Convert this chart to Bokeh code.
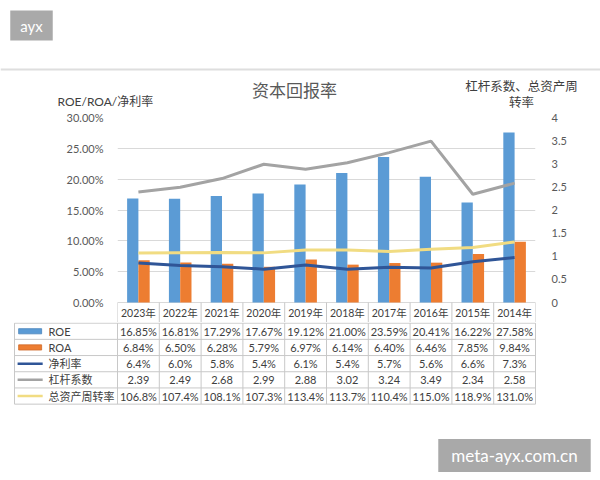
from bokeh.plotting import figure
from bokeh.models import (Range1d, LinearAxis, FixedTicker, PrintfTickFormatter,
                          CustomJSTickFormatter, Label, Span, ColumnDataSource)
from bokeh.layouts import column, row
from bokeh.transform import dodge
from bokeh.core.properties import value
from bokeh.embed import file_html
from bokeh.resources import INLINE

# ---------------- data ----------------
years = ["2023年", "2022年", "2021年", "2020年", "2019年",
         "2018年", "2017年", "2016年", "2015年", "2014年"]
roe = [16.85, 16.81, 17.29, 17.67, 19.12, 21.00, 23.59, 20.41, 16.22, 27.58]
roa = [6.84, 6.50, 6.28, 5.79, 6.97, 6.14, 6.40, 6.46, 7.85, 9.84]
net_margin = [6.4, 6.0, 5.8, 5.4, 6.1, 5.4, 5.7, 5.6, 6.6, 7.3]
leverage = [2.39, 2.49, 2.68, 2.99, 2.88, 3.02, 3.24, 3.49, 2.34, 2.58]
turnover = [106.8, 107.4, 108.1, 107.3, 113.4, 113.7, 110.4, 115.0, 118.9, 131.0]
left_ticks = [0, 5, 10, 15, 20, 25, 30]
right_ticks = [0, 0.5, 1, 1.5, 2, 2.5, 3, 3.5, 4]
series_names = ["ROE", "ROA", "净利率", "杠杆系数", "总资产周转率"]

C_ROE = "#5b9bd5"
C_ROA = "#ed7d31"
C_NM = "#2f5597"
C_LEV = "#a3a3a3"
C_TURN = "#f1dc82"
RULE = "#c8c8c8"

SANS = "Lato, 'Noto Sans CJK SC', sans-serif"
CJK = "'Noto Sans CJK SC', sans-serif"
TXT = "#404040"
n = len(years)
slot = [i + 0.5 for i in range(n)]   # category centres on a numeric axis

# chart frame geometry (pixels): plot area 185 px + 20 px header row of the table
PLOT_PX, HDR_PX = 185, 20
L_MAX, R_MAX = 30, 4
l_lo = -L_MAX * HDR_PX / PLOT_PX
r_lo = -R_MAX * HDR_PX / PLOT_PX

# ---------------- top band: page decoration + titles ----------------
BAND_H = 110
band = figure(width=600, height=BAND_H, x_range=Range1d(0, 600), y_range=Range1d(0, BAND_H),
              min_border=0, x_axis_location=None, y_axis_location=None,
              output_backend="svg", toolbar_location=None)
band.outline_line_color = None
band.xgrid.visible = False
band.ygrid.visible = False
def by(y_page):
    return BAND_H - y_page
band.add_layout(Span(location=by(69), dimension="width", line_color="#dedede", line_width=2))
band.add_layout(Label(x=31, y=by(25), text="ayx", text_align="center", text_baseline="middle",
                      text_color="white", text_font=SANS, text_font_size="15px",
                      background_fill_color="#a9a9a9",
                      padding=dict(left=10, right=10, top=6, bottom=6)))
band.add_layout(Label(x=294, y=by(89), text="资本回报率",
                      text_align="center", text_baseline="middle", text_font=CJK,
                      text_font_size="17px", text_color="#595959"))
band.add_layout(Label(x=57, y=by(101), text="ROE/ROA/净利率",
                      text_align="left", text_baseline="middle", text_font=SANS,
                      text_font_size="12px", text_color=TXT))
band.add_layout(Label(x=521, y=by(85), text="杠杆系数、总资产周",
                      text_align="center", text_baseline="middle", text_font=CJK,
                      text_font_size="12.5px", text_color=TXT))
band.add_layout(Label(x=521, y=by(101), text="转率",
                      text_align="center", text_baseline="middle", text_font=CJK,
                      text_font_size="12.5px", text_color=TXT))

# ---------------- chart (+ header row of the data table) ----------------
src = ColumnDataSource(dict(xi=slot, year=years, roe=roe, roa=roa, nm=net_margin,
                            lev=leverage, turn=[t / 100 for t in turnover]))

p = figure(width=600, height=212, x_range=Range1d(0, n), y_range=Range1d(l_lo, L_MAX),
           min_border_left=117, min_border_right=65, min_border_top=7, min_border_bottom=0,
           x_axis_location=None, output_backend="svg", toolbar_location=None)
p.outline_line_color = None
p.background_fill_color = "white"
p.extra_y_ranges = {"r": Range1d(r_lo, R_MAX)}

p.vbar(x=dodge("xi", -0.135), top="roe", bottom=0, width=0.27, source=src,
       fill_color=C_ROE, line_color=None)
p.vbar(x=dodge("xi", 0.135), top="roa", bottom=0, width=0.27, source=src,
       fill_color=C_ROA, line_color=None)
p.line("xi", "nm", source=src, line_color=C_NM, line_width=3)
p.line("xi", "lev", source=src, y_range_name="r", line_color=C_LEV, line_width=3)
p.line("xi", "turn", source=src, y_range_name="r", line_color=C_TURN, line_width=3)

ly = p.yaxis[0]
ly.ticker = FixedTicker(ticks=left_ticks)
ly.formatter = PrintfTickFormatter(format="%.2f%%")
ly.axis_line_color = None
ly.major_tick_line_color = None
ly.minor_tick_line_color = None
ly.major_label_standoff = 8
ly.major_label_text_font = SANS
ly.major_label_text_font_size = "11px"
ly.major_label_text_color = "#595959"

p.ygrid.grid_line_color = "#d9d9d9"
p.xgrid.visible = False

ry = LinearAxis(y_range_name="r", ticker=FixedTicker(ticks=right_ticks),
                formatter=CustomJSTickFormatter(code="return tick.toString()"))
ry.axis_line_color = None
ry.major_tick_line_color = None
ry.minor_tick_line_color = None
ry.major_label_standoff = 10
ry.major_label_text_font = SANS
ry.major_label_text_font_size = "11px"
ry.major_label_text_color = "#595959"
p.add_layout(ry, "right")

# header row: year labels and cell separators
sep = list(range(n + 1))
p.segment(x0=sep, x1=sep, y0=[0] * len(sep), y1=[l_lo] * len(sep),
          line_color=RULE, line_width=1)
p.text(x=slot, y=[l_lo / 2] * n, text=years, text_align="center", text_baseline="middle",
       text_font=value(SANS), text_font_size="10.5px", text_color=TXT)

# ---------------- data table body (+ bottom page area) ----------------
T_H = 158
ROW_PX = 16.2
COL_PX = 41.8
X0_PAGE = 117            # page x where the first year column starts
TX0 = -X0_PAGE / COL_PX
TX1 = (600 - X0_PAGE) / COL_PX
TY1 = 5.04
TY0 = TY1 - T_H / ROW_PX
t = figure(width=600, height=T_H, x_range=Range1d(TX0, TX1), y_range=Range1d(TY0, TY1),
           min_border=0, x_axis_location=None, y_axis_location=None,
           output_backend="svg", toolbar_location=None)
t.outline_line_color = None
t.xgrid.visible = False
t.ygrid.visible = False

nrows = len(series_names)
left_edge = (14 - X0_PAGE) / COL_PX
t.segment(x0=[left_edge] * (nrows + 1), x1=[n] * (nrows + 1),
          y0=list(range(nrows + 1)), y1=list(range(nrows + 1)),
          line_color=RULE, line_width=1)
vx = [left_edge] + list(range(n + 1))
t.segment(x0=vx, x1=vx, y0=[0] * len(vx), y1=[nrows] * len(vx),
          line_color=RULE, line_width=1)

rows = [
    (roe, lambda v: f"{v:.2f}%"),
    (roa, lambda v: f"{v:.2f}%"),
    (net_margin, lambda v: f"{v:.1f}%"),
    (leverage, lambda v: f"{v:.2f}"),
    (turnover, lambda v: f"{v:.1f}%"),
]
cx, cy, ct = [], [], []
for r, (vals, fmt) in enumerate(rows):
    yrow = nrows - 1 - r + 0.5
    for i, v in enumerate(vals):
        cx.append(slot[i])
        cy.append(yrow)
        ct.append(fmt(v))
t.text(x=cx, y=cy, text=ct, text_align="center", text_baseline="middle",
       text_font=value(SANS), text_font_size="11px", text_color=TXT)

row_y = [nrows - 1 - r + 0.5 for r in range(nrows)]
t.rect(x=[-2.09, -2.09], y=row_y[:2], width=0.55, height=0.32,
       fill_color=[C_ROE, C_ROA], line_color=["#4a84bb", "#cf6a28"], line_width=0.8)
t.segment(x0=[-2.39] * 3, x1=[-1.79] * 3, y0=row_y[2:], y1=row_y[2:],
          line_color=[C_NM, C_LEV, C_TURN], line_width=2.5)
t.text(x=[-1.65] * nrows, y=row_y, text=series_names, text_align="left",
       text_baseline="middle", text_font=value(SANS), text_font_size="11px",
       text_color=TXT)

# page watermark box (bottom right)
t.add_layout(Label(x=(514 - X0_PAGE) / COL_PX, y=TY1 - (455 - 322) / ROW_PX,
                   text="meta-ayx.com.cn",
                   text_align="center", text_baseline="middle", text_color="white",
                   text_font=SANS, text_font_size="17px", background_fill_color="#a9a9a9",
                   padding=dict(left=13, right=13, top=6, bottom=6)))

layout = column(row(band), row(p), row(t), spacing=0)
open("out.html", "w").write(file_html(layout, INLINE))
